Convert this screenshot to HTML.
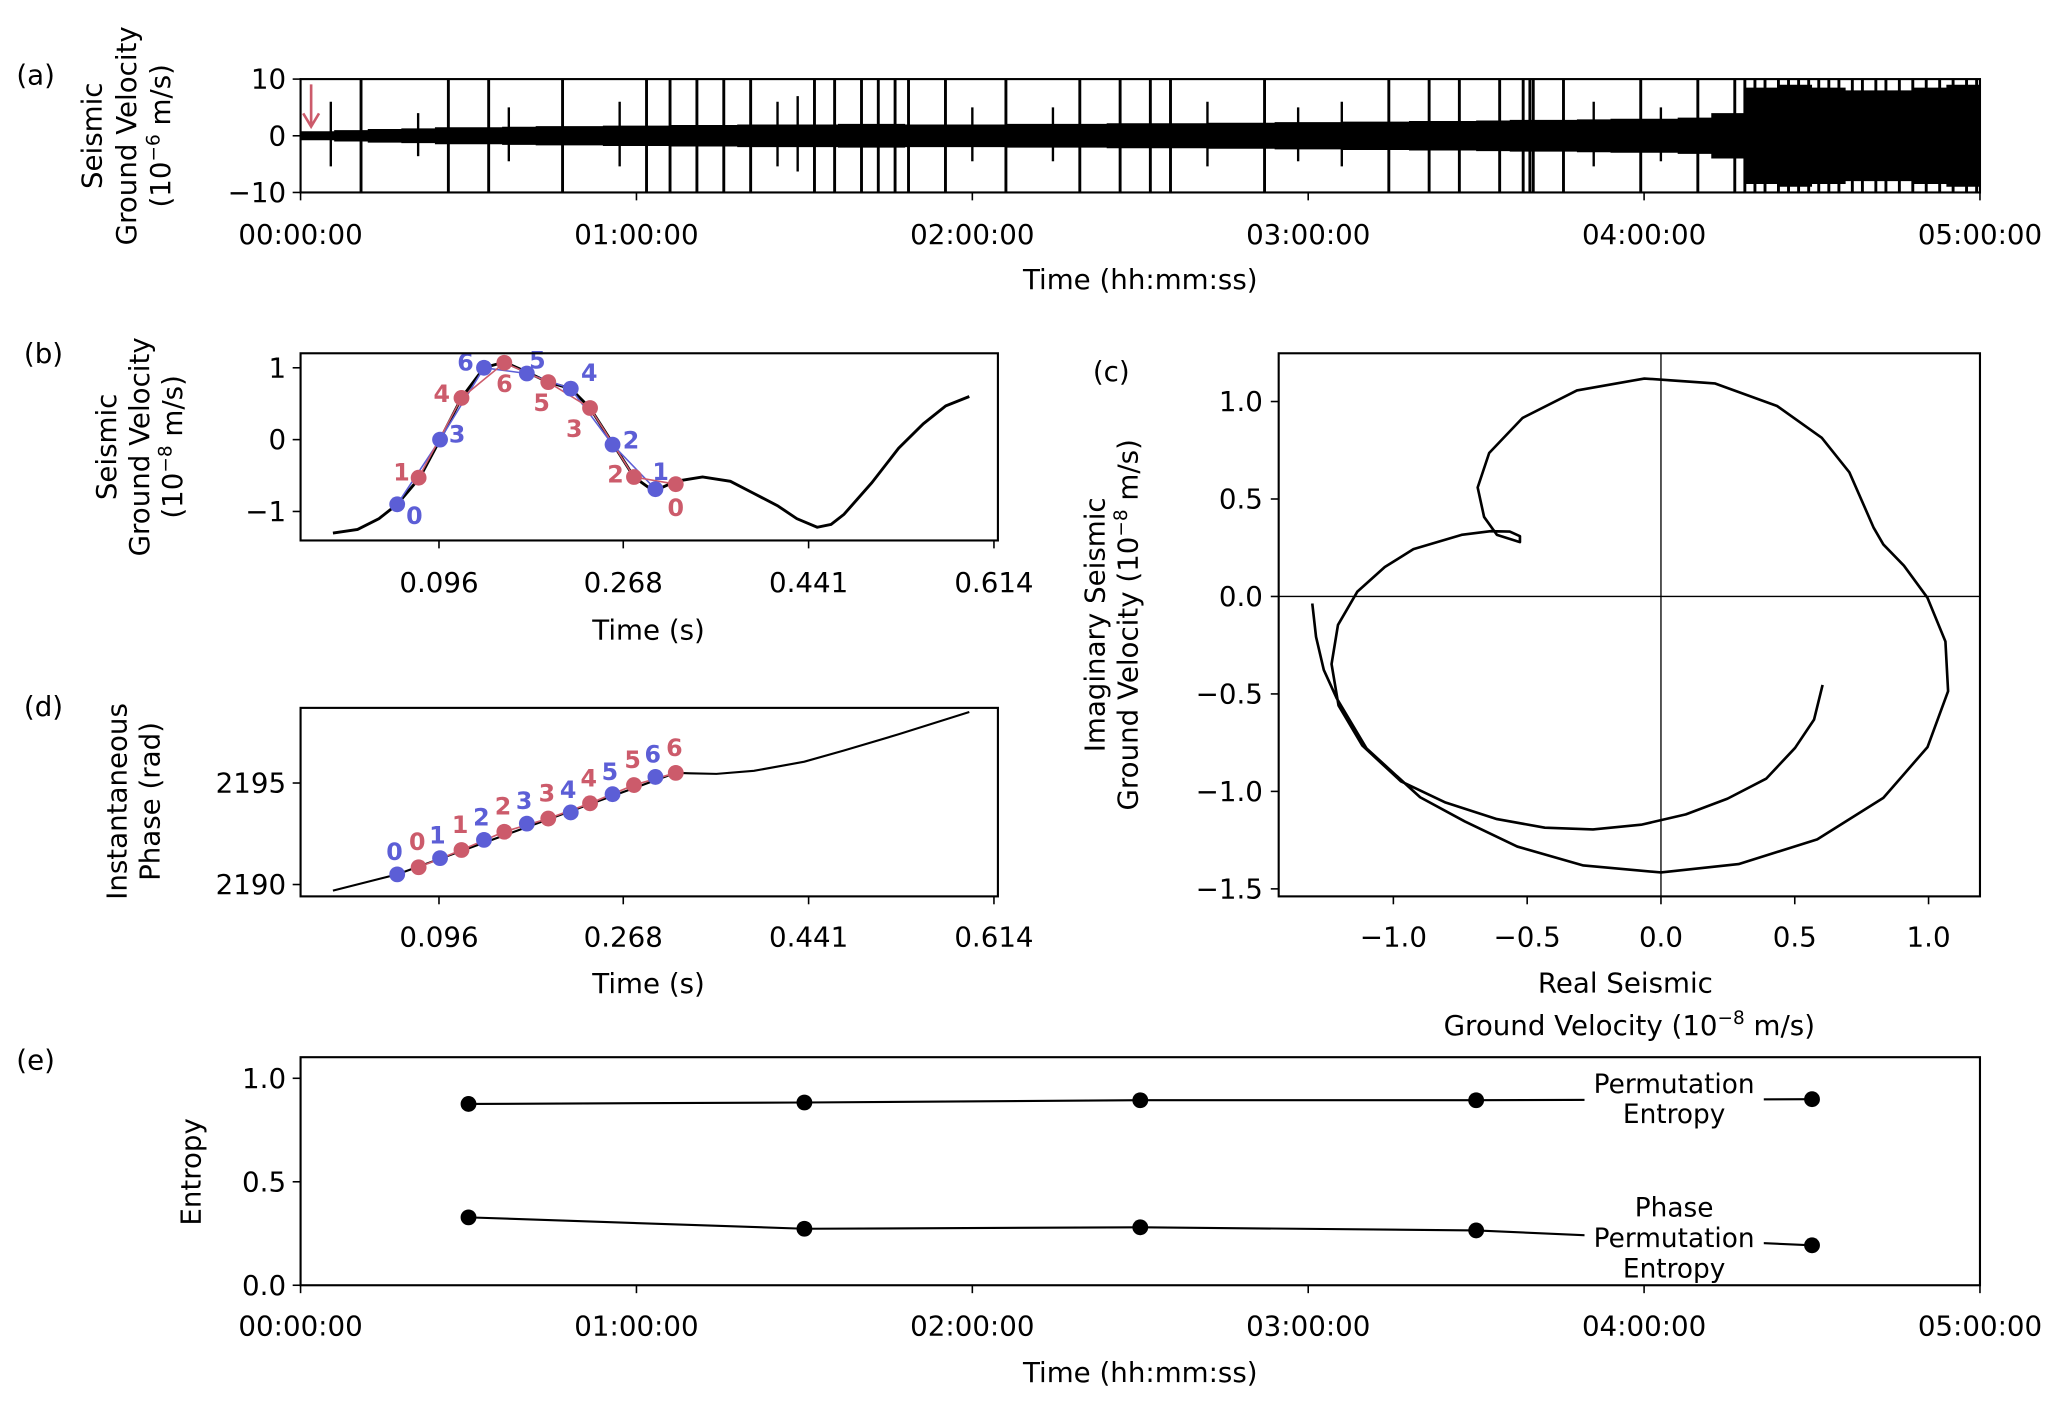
<!DOCTYPE html>
<html><head><meta charset="utf-8"><style>
html,body{margin:0;padding:0;background:#fff}
svg{display:block}
text{font-family:"DejaVu Sans","Liberation Sans",sans-serif;fill:#000}
</style></head><body>
<svg id="fig" xmlns="http://www.w3.org/2000/svg" width="2067" height="1406" viewBox="0 0 1568 1066.6"></svg>
<script>
// ---------- data ----------
// panel a
const aSpikeHours=[0.18,0.44,0.56,0.78,1.03,1.10,1.18,1.26,1.34,1.53,1.59,1.67,1.72,1.77,1.81,1.92,2.10,2.32,2.44,2.53,2.59,2.87,3.24,3.36,3.45,3.57,3.64,3.66,3.67,3.76,3.99,4.16,4.27,4.30,4.33,4.36,4.40,4.43,4.46,4.49,4.52,4.55,4.58,4.62,4.65,4.69,4.72,4.76,4.80,4.84,4.88,4.92,4.96,4.99];
const aEnvelope=[0.8,1.0,1.2,1.3,1.5,1.5,1.6,1.7,1.7,1.8,1.8,1.9,1.9,2.0,2.0,2.0,2.1,2.1,2.0,2.0,2.0,2.1,2.1,2.1,2.2,2.2,2.2,2.3,2.3,2.4,2.4,2.5,2.5,2.6,2.6,2.7,2.8,2.8,2.9,3.0,3.0,3.2,4.0,8.5,9.0,8.5,8.0,8.0,8.5,9.0];
const aMidHours=[0.09,0.35,0.62,0.95,1.42,1.48,2.00,2.24,2.70,2.97,3.10,3.85,4.05];
const aMidAmp=[6,4,5,6,6,7,5,5,6,5,6,6,5];
// panel b
const bCurveT=[-0.003,0.020,0.040,0.057,0.078,0.097,0.117,0.138,0.157,0.178,0.198,0.219,0.237,0.258,0.278,0.292,0.305,0.317,0.342,0.368,0.390,0.412,0.430,0.449,0.462,0.474,0.500,0.525,0.548,0.569,0.591];
const bCurveV=[-1.30,-1.25,-1.10,-0.90,-0.53,0.00,0.58,1.00,1.08,0.94,0.80,0.71,0.44,-0.05,-0.52,-0.67,-0.66,-0.58,-0.52,-0.58,-0.75,-0.92,-1.10,-1.22,-1.18,-1.04,-0.60,-0.12,0.22,0.47,0.60];
const blueT=[0.057,0.097,0.138,0.178,0.219,0.258,0.298];
const blueV=[-0.90,0.00,1.00,0.92,0.71,-0.07,-0.69];
const blueRank=["0","3","6","5","4","2","1"];
const redT=[0.077,0.117,0.157,0.198,0.237,0.278,0.317];
const redV=[-0.53,0.58,1.07,0.80,0.44,-0.52,-0.62];
const redRank=["1","4","6","5","3","2","0"];
const bTicks=[0.096,0.268,0.441,0.614];
const bYTicks=[1,0,-1];
// panel d
const dCurveT=[-0.003,0.057,0.317,0.330,0.355,0.390,0.437,0.474,0.525,0.591];
const dCurveV=[2189.7,2190.5,2195.5,2195.48,2195.45,2195.6,2196.05,2196.6,2197.4,2198.5];
const dBlueV=[2190.5,2191.3,2192.2,2193.0,2193.55,2194.45,2195.3];
const dRedV=[2190.85,2191.7,2192.6,2193.25,2194.0,2194.9,2195.5];
const dRankLabels=["0","1","2","3","4","5","6"];
const dYTicks=[2195,2190];
// panel c
const cRe=[-1.303,-1.289,-1.260,-1.212,-1.100,-0.900,-0.733,-0.537,-0.290,0.000,0.290,0.584,0.831,0.996,1.073,1.063,0.996,0.908,0.831,0.795,0.704,0.601,0.434,0.201,-0.062,-0.314,-0.517,-0.642,-0.685,-0.661,-0.613,-0.527,-0.527,-0.565,-0.637,-0.745,-0.925,-1.032,-1.135,-1.207,-1.231,-1.205,-1.116,-0.972,-0.805,-0.613,-0.434,-0.254,-0.074,0.093,0.249,0.393,0.501,0.572,0.604];
const cIm=[-0.036,-0.207,-0.377,-0.522,-0.780,-1.030,-1.154,-1.283,-1.380,-1.416,-1.373,-1.246,-1.033,-0.773,-0.486,-0.231,-0.007,0.158,0.267,0.352,0.637,0.814,0.977,1.093,1.118,1.057,0.916,0.736,0.559,0.408,0.316,0.279,0.309,0.333,0.335,0.316,0.243,0.151,0.024,-0.146,-0.347,-0.559,-0.765,-0.948,-1.057,-1.142,-1.186,-1.195,-1.171,-1.118,-1.037,-0.935,-0.777,-0.632,-0.454];
const cXTicks=[-1.0,-0.5,0.0,0.5,1.0];
const cYTicks=[1.0,0.5,0.0,-0.5,-1.0,-1.5];
// panel e
const eHours=[0.5,1.5,2.5,3.5,4.5];
const ePE=[0.876,0.883,0.894,0.894,0.899];
const ePPE=[0.328,0.273,0.280,0.265,0.193];
const eYTicks=[1.0,0.5,0.0];
const hourTickLabels=["00:00:00","01:00:00","02:00:00","03:00:00","04:00:00","05:00:00"];

// ---------- helpers ----------
const NS="http://www.w3.org/2000/svg";
const svg=document.getElementById('fig');
function mk(tag,attrs,parent){const e=document.createElementNS(NS,tag);for(const k in attrs)e.setAttribute(k,attrs[k]);(parent||svg).appendChild(e);return e;}
function lin(d0,d1,r0,r1){return v=>r0+(v-d0)/(d1-d0)*(r1-r0);}
function txt(s,x,y,size,anchor,parent,extra){const t=mk('text',Object.assign({x:x,y:y,'font-size':size,'text-anchor':anchor||'middle','dominant-baseline':'central'},extra||{}),parent);t.textContent=s;return t;}
function frame(x0,y0,x1,y1,parent){return mk('rect',{x:x0,y:y0,width:x1-x0,height:y1-y0,fill:'none',stroke:'#000','stroke-width':1.6},parent);}
const BLUE='#5c5ed6', RED='#cc5b6b';

// ---------- panel a ----------
{
const g=mk('g',{});
const x=lin(0,5,228,1502), y=lin(10,-10,60,146);
const cp=mk('clipPath',{id:'clipA'},g);
mk('rect',{x:228,y:60,width:1274,height:86},cp);
const w=mk('g',{'clip-path':'url(#clipA)'},g);

let top=[],bot=[];
aEnvelope.forEach((v,i)=>{const h0=i*0.1,h1=(i+1)*0.1;top.push(x(h0)+','+y(v),x(h1)+','+y(v));bot.push(x(h0)+','+y(-v),x(h1)+','+y(-v));});
bot.reverse();
const band=mk('polygon',{points:top.concat(bot).join(' '),fill:'#000'},w);

aSpikeHours.forEach(h=>{const l=mk('line',{x1:x(h),x2:x(h),y1:y(11),y2:y(-11),stroke:'#000','stroke-width':2.2},w);
});
aMidHours.forEach((h,i)=>{const l=mk('line',{x1:x(h),x2:x(h),y1:y(aMidAmp[i]),y2:y(-aMidAmp[i]*0.9),stroke:'#000','stroke-width':1.8},w);
});
frame(228,60,1502,146,g);
[10,0,-10].forEach(v=>{mk('line',{x1:222,x2:228,y1:y(v),y2:y(v),stroke:'#000','stroke-width':1.2},g);const t=txt(String(v).replace('-','\u2212'),217,y(v),21,'end',g);});
hourTickLabels.forEach((s,i)=>{mk('line',{x1:x(i),x2:x(i),y1:146,y2:152,stroke:'#000','stroke-width':1.2},g);const t=txt(s,x(i),178,21,'middle',g);});
const xl=txt('Time (hh:mm:ss)',865,212,21,'middle',g);
const yl=mk('text',{transform:'translate(103,103) rotate(-90)','font-size':21,'text-anchor':'middle'},g);

yl.innerHTML='<tspan x="0" y="-26">Seismic</tspan><tspan x="0" y="0">Ground Velocity</tspan><tspan x="0" y="26">(10<tspan dy="-8" font-size="14">\u22126</tspan><tspan dy="8"> m/s)</tspan></tspan>';
const ar=mk('g',{},g);
mk('line',{x1:236,x2:236,y1:64,y2:95,stroke:RED,'stroke-width':2},ar);
mk('polyline',{points:'230,86 236,96 242,86',fill:'none',stroke:RED,'stroke-width':2},ar);
const pl=txt('(a)',27,57,21,'middle',g);
}

// ---------- panel b ----------
{
const g=mk('g',{});
const x=lin(0.096,0.614,333,754), y=lin(1,-1,279,388);
const p=mk('polyline',{points:bCurveT.map((t,i)=>x(t)+','+y(bCurveV[i])).join(' '),fill:'none',stroke:'#000','stroke-width':2.2},g);

const bl=mk('polyline',{points:blueT.map((t,i)=>x(t)+','+y(blueV[i])).join(' '),fill:'none',stroke:BLUE,'stroke-width':1.2},g);

const rl=mk('polyline',{points:redT.map((t,i)=>x(t)+','+y(redV[i])).join(' '),fill:'none',stroke:RED,'stroke-width':1.2},g);

const bOff=[[13,9],[13,-4],[-14,-4],[8,-10],[14,-12],[14,-3],[4,-13]];
const rOff=[[-13,-4],[-15,-3],[0,16],[-5,16],[-12,16],[-14,-2],[0,18]];
blueT.forEach((t,i)=>{const c=mk('circle',{cx:x(t),cy:y(blueV[i]),r:6,fill:BLUE},g);
const l=txt(blueRank[i],x(t)+bOff[i][0],y(blueV[i])+bOff[i][1],18,'middle',g,{'font-weight':'bold'});l.style.fill=BLUE;});
redT.forEach((t,i)=>{const c=mk('circle',{cx:x(t),cy:y(redV[i]),r:6,fill:RED},g);
const l=txt(redRank[i],x(t)+rOff[i][0],y(redV[i])+rOff[i][1],18,'middle',g,{'font-weight':'bold'});l.style.fill=RED;});
frame(228,268,757,410,g);
bYTicks.forEach(v=>{mk('line',{x1:222,x2:228,y1:y(v),y2:y(v),stroke:'#000','stroke-width':1.2},g);const t=txt(String(v).replace('-','\u2212'),217,y(v),21,'end',g);});
bTicks.forEach(v=>{mk('line',{x1:x(v),x2:x(v),y1:410,y2:416,stroke:'#000','stroke-width':1.2},g);const t=txt(v.toFixed(3),x(v),442,21,'middle',g);});
const xl=txt('Time (s)',492,478,21,'middle',g);
const yl=mk('text',{transform:'translate(113,339) rotate(-90)','font-size':21,'text-anchor':'middle'},g);

yl.innerHTML='<tspan x="0" y="-25">Seismic</tspan><tspan x="0" y="0">Ground Velocity</tspan><tspan x="0" y="25">(10<tspan dy="-8" font-size="14">\u22128</tspan><tspan dy="8"> m/s)</tspan></tspan>';
const pl=txt('(b)',33,268,21,'middle',g);
}

// ---------- panel d ----------
{
const g=mk('g',{});
const x=lin(0.096,0.614,333,754), y=lin(2195,2190,594,671);
const p=mk('polyline',{points:dCurveT.map((t,i)=>x(t)+','+y(dCurveV[i])).join(' '),fill:'none',stroke:'#000','stroke-width':1.6},g);

const rl=mk('polyline',{points:redT.map((t,i)=>x(t)+','+y(dRedV[i])).join(' '),fill:'none',stroke:RED,'stroke-width':1.3},g);

blueT.forEach((t,i)=>{const c=mk('circle',{cx:x(t),cy:y(dBlueV[i]),r:6,fill:BLUE},g);
const l=txt(dRankLabels[i],x(t)-2,y(dBlueV[i])-17,18,'middle',g,{'font-weight':'bold'});l.style.fill=BLUE;});
redT.forEach((t,i)=>{const c=mk('circle',{cx:x(t),cy:y(dRedV[i]),r:6,fill:RED},g);
const l=txt(dRankLabels[i],x(t)-1,y(dRedV[i])-19,18,'middle',g,{'font-weight':'bold'});l.style.fill=RED;});
frame(228,537,757,680,g);
dYTicks.forEach(v=>{mk('line',{x1:222,x2:228,y1:y(v),y2:y(v),stroke:'#000','stroke-width':1.2},g);const t=txt(String(v),217,y(v),21,'end',g);});
bTicks.forEach(v=>{mk('line',{x1:x(v),x2:x(v),y1:680,y2:686,stroke:'#000','stroke-width':1.2},g);const t=txt(v.toFixed(3),x(v),711,21,'middle',g);});
const xl=txt('Time (s)',492,746,21,'middle',g);
const yl=mk('text',{transform:'translate(108,608) rotate(-90)','font-size':21,'text-anchor':'middle'},g);

yl.innerHTML='<tspan x="0" y="-12">Instantaneous</tspan><tspan x="0" y="13">Phase (rad)</tspan>';
const pl=txt('(d)',33,536,21,'middle',g);
}

// ---------- panel c ----------
{
const g=mk('g',{});
const x=lin(-1,1,1057,1463), y=lin(1,-1.5,304.6,674.3);
const zv=mk('line',{x1:x(0),x2:x(0),y1:268,y2:680,stroke:'#000','stroke-width':1},g);

const zh=mk('line',{x1:970,x2:1502,y1:y(0),y2:y(0),stroke:'#000','stroke-width':1},g);

const p=mk('polyline',{points:cRe.map((r,i)=>x(r)+','+y(cIm[i])).join(' '),fill:'none',stroke:'#000','stroke-width':2,'stroke-linejoin':'round'},g);

frame(970,268,1502,680,g);
cXTicks.forEach(v=>{mk('line',{x1:x(v),x2:x(v),y1:680,y2:686,stroke:'#000','stroke-width':1.2},g);const t=txt(v.toFixed(1).replace('-','\u2212'),x(v),711,21,'middle',g);});
cYTicks.forEach(v=>{mk('line',{x1:964,x2:970,y1:y(v),y2:y(v),stroke:'#000','stroke-width':1.2},g);const t=txt(v.toFixed(1).replace('-','\u2212'),958,y(v),21,'end',g);});
const xl=mk('text',{'font-size':21,'text-anchor':'middle'},g);

xl.innerHTML='<tspan x="1233" y="753">Real Seismic</tspan><tspan x="1236" y="785">Ground Velocity (10<tspan dy="-8" font-size="14">\u22128</tspan><tspan dy="8"> m/s)</tspan></tspan>';
const yl=mk('text',{transform:'translate(850,474) rotate(-90)','font-size':21,'text-anchor':'middle'},g);

yl.innerHTML='<tspan x="0" y="-12">Imaginary Seismic</tspan><tspan x="0" y="13">Ground Velocity (10<tspan dy="-8" font-size="14">\u22128</tspan><tspan dy="8"> m/s)</tspan></tspan>';
const pl=txt('(c)',843,282,21,'middle',g);
}

// ---------- panel e ----------
{
const g=mk('g',{});
const x=lin(0,5,228,1502), y=lin(1,0,818,975);
const l1=mk('polyline',{points:eHours.map((h,i)=>x(h)+','+y(ePE[i])).join(' '),fill:'none',stroke:'#000','stroke-width':1.6},g);

const l2=mk('polyline',{points:eHours.map((h,i)=>x(h)+','+y(ePPE[i])).join(' '),fill:'none',stroke:'#000','stroke-width':1.6},g);

eHours.forEach((h,i)=>{const c=mk('circle',{cx:x(h),cy:y(ePE[i]),r:6,fill:'#000'},g);
const d=mk('circle',{cx:x(h),cy:y(ePPE[i]),r:6,fill:'#000'},g);});
mk('rect',{x:1202,y:812,width:136,height:44,fill:'#fff'},g);
mk('rect',{x:1202,y:906,width:136,height:66,fill:'#fff'},g);
const t1=mk('text',{'font-size':20,'text-anchor':'middle'},g);

t1.innerHTML='<tspan x="1270" y="829">Permutation</tspan><tspan x="1270" y="852">Entropy</tspan>';
const t2=mk('text',{'font-size':20,'text-anchor':'middle'},g);

t2.innerHTML='<tspan x="1270" y="923">Phase</tspan><tspan x="1270" y="946">Permutation</tspan><tspan x="1270" y="969">Entropy</tspan>';
frame(228,802,1502,975,g);
eYTicks.forEach(v=>{mk('line',{x1:222,x2:228,y1:y(v),y2:y(v),stroke:'#000','stroke-width':1.2},g);const t=txt(v.toFixed(1),217,y(v),21,'end',g);});
hourTickLabels.forEach((s,i)=>{mk('line',{x1:x(i),x2:x(i),y1:975,y2:981,stroke:'#000','stroke-width':1.2},g);const t=txt(s,x(i),1006,21,'middle',g);});
const xl=txt('Time (hh:mm:ss)',865,1041,21,'middle',g);
const yl=txt('Entropy',0,0,21,'middle',g,{transform:'translate(145,889) rotate(-90)'});
const pl=txt('(e)',27,804,21,'middle',g);
}
</script>
</body></html>
